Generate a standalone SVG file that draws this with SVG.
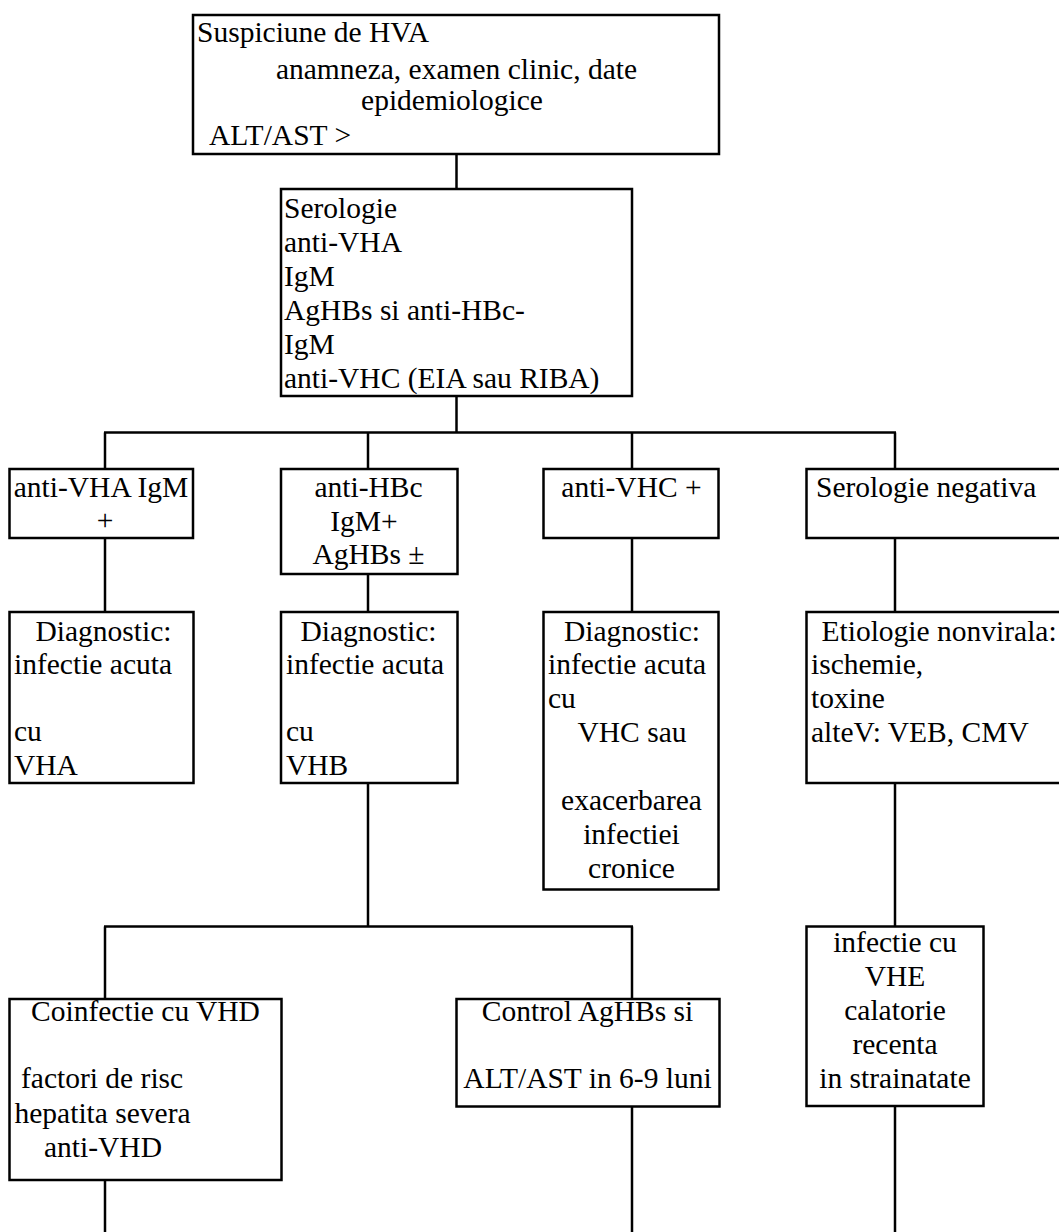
<svg xmlns="http://www.w3.org/2000/svg" width="1059" height="1232" viewBox="0 0 1059 1232">
<style>
rect{fill:#fff;stroke:#000;stroke-width:2.5}
.c line{stroke:#000;stroke-width:2.5}
text{font-family:"Liberation Serif","Times New Roman",serif;font-size:29.5px;fill:#000}
.m{text-anchor:middle}
</style>
<rect x="0" y="0" width="1059" height="1232" style="stroke:none"/>
<g class="c" id="connectors">
<line x1="456.5" y1="154" x2="456.5" y2="189"/>
<line x1="456.5" y1="396" x2="456.5" y2="432.5"/>
<line x1="104" y1="432.5" x2="896" y2="432.5"/>
<line x1="105" y1="432.5" x2="105" y2="469"/>
<line x1="368" y1="432.5" x2="368" y2="469"/>
<line x1="632" y1="432.5" x2="632" y2="469"/>
<line x1="895" y1="432.5" x2="895" y2="469"/>
<line x1="105" y1="538" x2="105" y2="612"/>
<line x1="368" y1="574" x2="368" y2="612"/>
<line x1="632" y1="538" x2="632" y2="612"/>
<line x1="895" y1="538" x2="895" y2="612"/>
<line x1="368" y1="783" x2="368" y2="926.5"/>
<line x1="104" y1="926.5" x2="633" y2="926.5"/>
<line x1="105" y1="926.5" x2="105" y2="999"/>
<line x1="632" y1="926.5" x2="632" y2="999"/>
<line x1="895" y1="783" x2="895" y2="926.5"/>
<line x1="105" y1="1180" x2="105" y2="1232"/>
<line x1="632" y1="1106.5" x2="632" y2="1232"/>
<line x1="895" y1="1106" x2="895" y2="1232"/>
</g>
<g id="n-suspiciune">
<rect x="193" y="15" width="526" height="139"/>
<text x="197" y="42">Suspiciune de HVA</text>
<text class="m" x="456.5" y="78.5">anamneza, examen clinic, date</text>
<text class="m" x="452" y="109.5">epidemiologice</text>
<text x="209" y="145">ALT/AST &gt;</text>
</g>
<g id="n-serologie">
<rect x="281" y="189" width="351" height="207"/>
<text x="284" y="217.5">Serologie</text>
<text x="284" y="251.5">anti-VHA</text>
<text x="284" y="285.5">IgM</text>
<text x="284" y="319.5">AgHBs si anti-HBc-</text>
<text x="284" y="353.5">IgM</text>
<text x="284" y="387.5">anti-VHC (EIA sau RIBA)</text>
</g>
<g id="n-antivha">
<rect x="9.5" y="469" width="183.5" height="69"/>
<text class="m" x="101" y="497">anti-VHA IgM</text>
<text class="m" x="105" y="530">+</text>
</g>
<g id="n-antihbc">
<rect x="281" y="469" width="176.5" height="105"/>
<text class="m" x="368.5" y="497">anti-HBc</text>
<text class="m" x="364" y="530.5">IgM+</text>
<text class="m" x="368.5" y="564">AgHBs ±</text>
</g>
<g id="n-antivhc">
<rect x="543.5" y="469" width="175" height="69"/>
<text class="m" x="631.5" y="497">anti-VHC +</text>
</g>
<g id="n-serologie-negativa">
<rect x="806.5" y="469" width="260" height="69"/>
<text x="816" y="497">Serologie negativa</text>
</g>
<g id="n-diag-vha">
<rect x="9.5" y="612" width="184" height="171"/>
<text class="m" x="103.5" y="640.5">Diagnostic:</text>
<text x="14" y="674">infectie acuta</text>
<text x="14" y="741">cu</text>
<text x="14" y="775">VHA</text>
</g>
<g id="n-diag-vhb">
<rect x="281" y="612" width="176.5" height="171"/>
<text class="m" x="368.5" y="640.5">Diagnostic:</text>
<text x="286" y="674">infectie acuta</text>
<text x="286" y="741">cu</text>
<text x="286" y="775">VHB</text>
</g>
<g id="n-diag-vhc">
<rect x="543.5" y="612" width="175" height="277.5"/>
<text class="m" x="632" y="640.5">Diagnostic:</text>
<text x="548" y="674">infectie acuta</text>
<text x="548" y="708">cu</text>
<text class="m" x="632" y="742">VHC sau</text>
<text class="m" x="631.5" y="810">exacerbarea</text>
<text class="m" x="631.5" y="844">infectiei</text>
<text class="m" x="631.5" y="878">cronice</text>
</g>
<g id="n-etiologie">
<rect x="806.5" y="612" width="260" height="171"/>
<text x="821.5" y="640.5">Etiologie nonvirala:</text>
<text x="811" y="674">ischemie,</text>
<text x="811" y="708">toxine</text>
<text x="811" y="742">alteV: VEB, CMV</text>
</g>
<g id="n-coinfectie">
<rect x="9.5" y="999" width="272" height="181"/>
<text class="m" x="145.5" y="1021">Coinfectie cu VHD</text>
<text x="21" y="1088">factori de risc</text>
<text x="14.5" y="1123">hepatita severa</text>
<text x="44" y="1157">anti-VHD</text>
</g>
<g id="n-control">
<rect x="456.5" y="999" width="263" height="107.5"/>
<text class="m" x="587.5" y="1021">Control AgHBs si</text>
<text class="m" x="587.5" y="1088">ALT/AST in 6-9 luni</text>
</g>
<g id="n-vhe">
<rect x="806.5" y="926.5" width="177" height="179.5"/>
<text class="m" x="895" y="952">infectie cu</text>
<text class="m" x="895" y="985.5">VHE</text>
<text class="m" x="895" y="1019.5">calatorie</text>
<text class="m" x="895" y="1053.5">recenta</text>
<text class="m" x="895" y="1088">in strainatate</text>
</g>
</svg>
